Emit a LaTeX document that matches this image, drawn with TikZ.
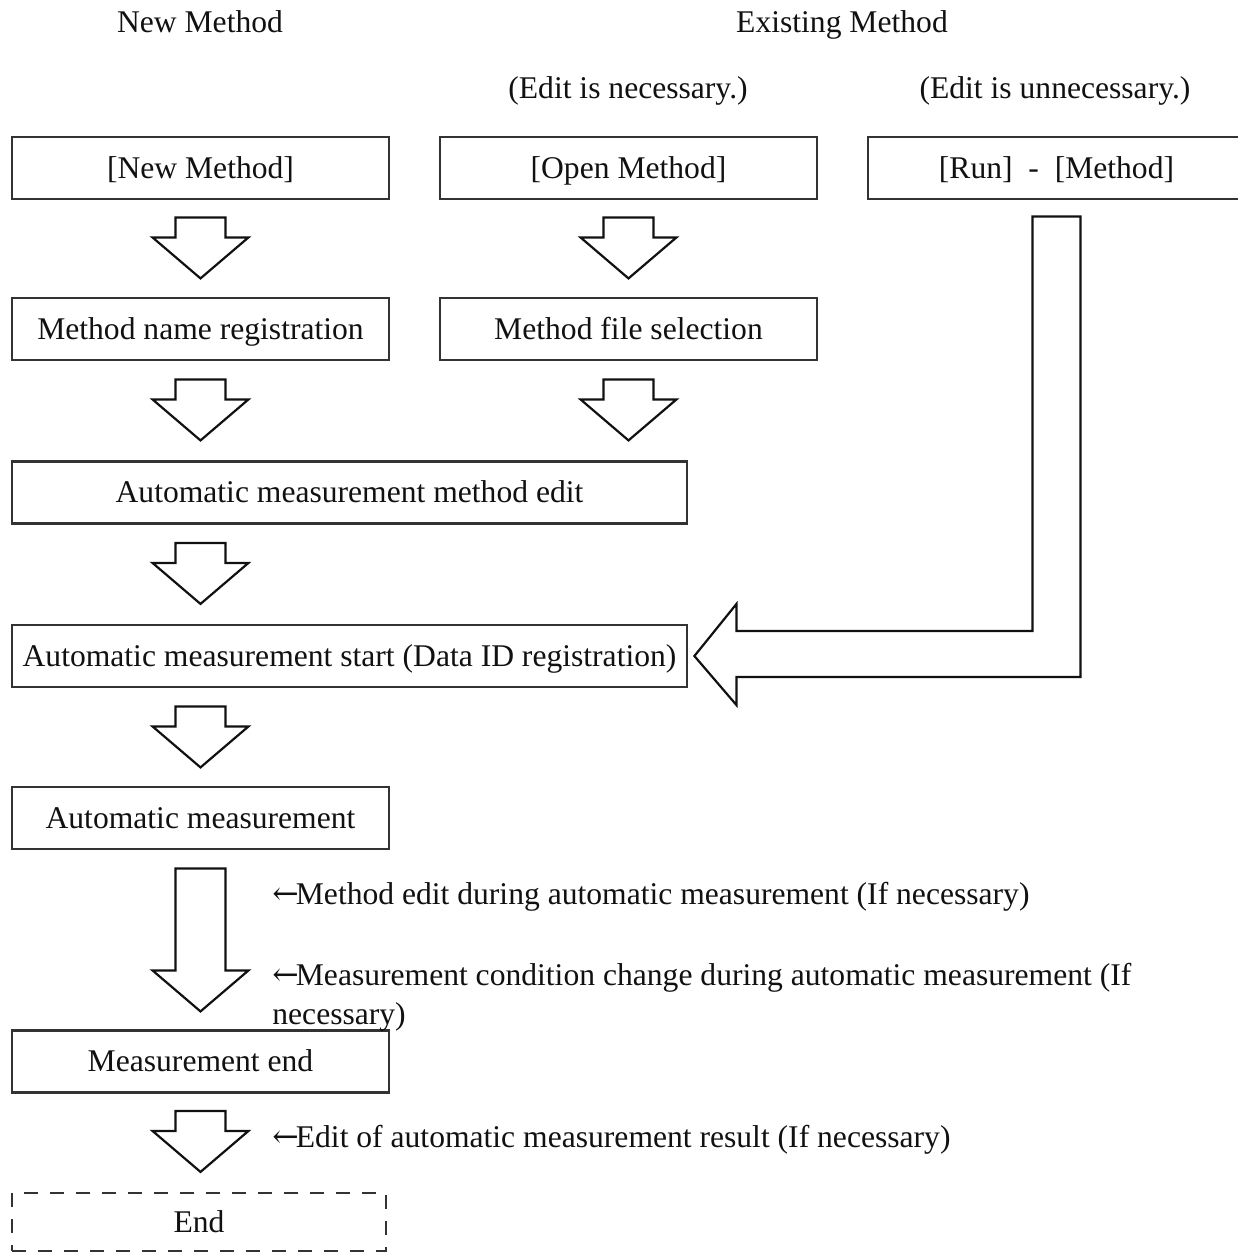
\documentclass[tikz,border=0pt]{standalone}
\usepackage{fontspec}
\setmainfont{Liberation Serif}
\newfontfamily\arrowfont{DejaVu Serif}
\usetikzlibrary{positioning,calc}
\definecolor{ink}{HTML}{111111}
\definecolor{frame}{HTML}{333333}
\newcommand{\larr}{{\arrowfont ←}\kern-1.5pt}
\tikzset{
  every node/.append style={text=ink},
  body/.style={font=\fontsize{15.8}{19.5}\selectfont, text height=12.5pt, text depth=2.5pt},
  box/.style={draw=frame, line width=1.4pt, minimum height=31pt, inner sep=0pt, body},
  narrowbox/.style={box, minimum width=188.5pt},
  widebox/.style={box, minimum width=337.5pt},
  endbox/.style={box, minimum width=187pt, minimum height=29pt, line width=1.2pt, dash pattern=on 7pt off 6pt},
  note/.style={font=\fontsize{15.8}{19.5}\selectfont, anchor=west, align=left, inner sep=0pt},
  arrowline/.style={draw=ink, line width=1.1pt, fill=white, line join=miter},
  pics/blockdown/.style={
    code={
      \draw[arrowline] (-25,0) -- (-25,{#1-41}) -- (-48,{#1-41}) -- (0,#1)
        -- (48,{#1-41}) -- (25,{#1-41}) -- (25,0) -- cycle;
    }
  },
}

\begin{document}
\begin{tikzpicture}[x=0.5pt,y=-0.5pt]
  \useasboundingbox (0,0) rectangle (1237,1253);

  % headings
  \node[body] (hnew) at (200,22) {New Method};
  \node[body] (hold) at (842,22) {Existing Method};
  \node[body] (hedit) at (628,88) {(Edit is necessary.)};
  \node[body] (hnoedit) at (1055,88) {(Edit is unnecessary.)};

  % top row
  \node[narrowbox] (newm) at (200.5,168) {[New Method]};
  \node[narrowbox] (openm) at (628.5,168) {[Open Method]};
  \node[narrowbox] (run) at (1056.5,168) {[Run]~ - ~[Method]};

  % second row
  \node[narrowbox] (name) at (200.5,329) {Method name registration};
  \node[narrowbox] (file) at (628.5,329) {Method file selection};
  \pic at ($(newm.south)+(0,17)$) {blockdown=61};
  \pic at ($(openm.south)+(0,17)$) {blockdown=61};

  % edit
  \node[widebox] (edit) at (349.5,492.5) {Automatic measurement method edit};
  \pic at ($(name.south)+(0,18)$) {blockdown=61};
  \pic at ($(file.south)+(0,18)$) {blockdown=61};

  % start
  \node[widebox] (start) at (349.5,656) {Automatic measurement start (Data ID registration)};
  \pic at ($(newm.south |- edit.south)+(0,18)$) {blockdown=61};

  % bypass from run
  \coordinate (tip) at ($(start.east)+(6,0)$);
  \coordinate (bend) at ($(run.south)+(0,16)$);
  \draw[arrowline] ($(bend)+(-24,0)$) -- ($(bend)+(24,0)$) -- ($(bend |- tip)+(24,21)$)
    -- ($(tip)+(42,21)$) -- ($(tip)+(42,49)$) -- (tip) -- ($(tip)+(42,-52)$)
    -- ($(tip)+(42,-25)$) -- ($(bend |- tip)+(-24,-25)$) -- cycle;

  % measurement
  \node[narrowbox] (meas) at (200.5,818) {Automatic measurement};
  \pic at ($(newm.south |- start.south)+(0,18)$) {blockdown=61};

  \node[narrowbox] (mend) at (200.5,1061.5) {Measurement end};
  \pic at ($(meas.south)+(0,18)$) {blockdown=143};
  \node[note] (n1) at (272,897) {\larr Method edit during automatic measurement (If necessary)};
  \node[note] (n2) at (272,997.5) {\larr Measurement condition change during automatic measurement (If\\necessary)};

  % end
  \node[endbox] (fin) at (199,1222) {End};
  \pic at ($(mend.south)+(0,17)$) {blockdown=61};
  \node[note] (n3) at (272,1140) {\larr Edit of automatic measurement result (If necessary)};
\end{tikzpicture}
\end{document}
